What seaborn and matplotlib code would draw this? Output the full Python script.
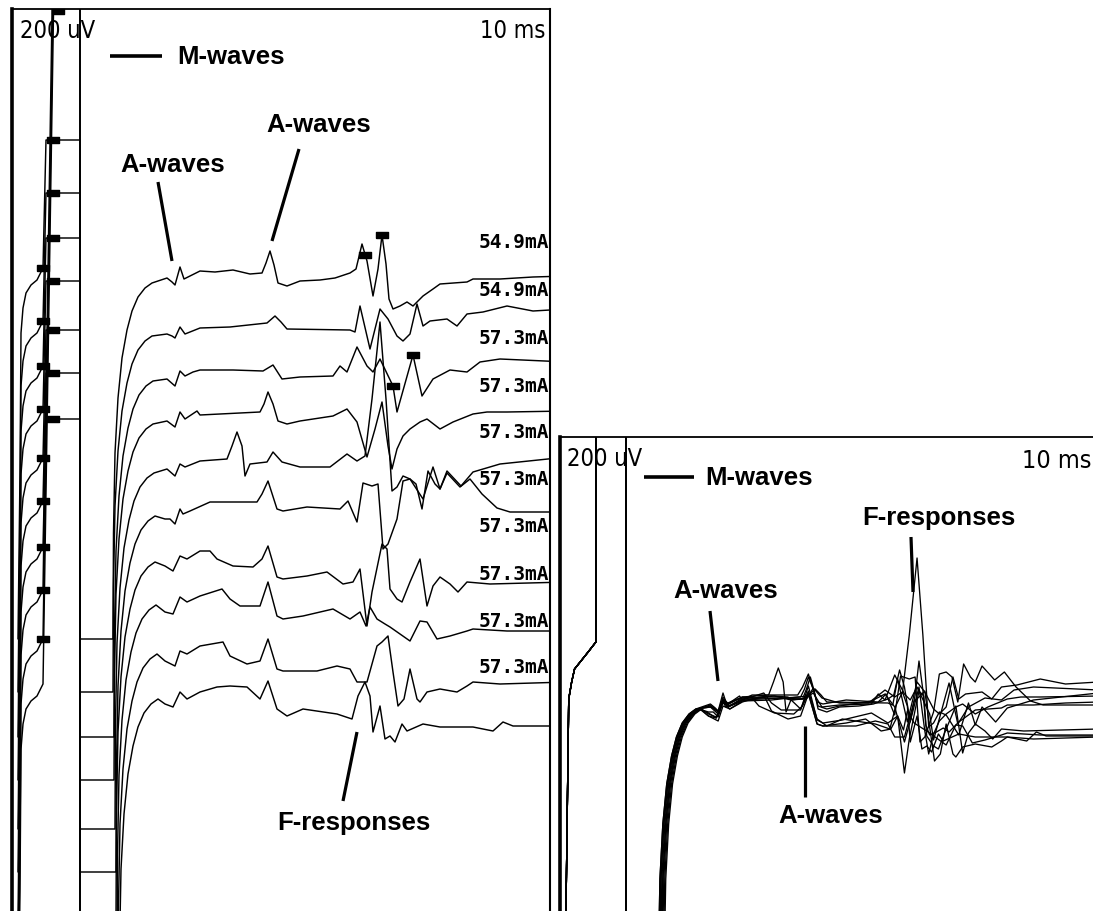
import numpy as np
import pandas as pd
import matplotlib
matplotlib.use("Agg")
import matplotlib.pyplot as plt
from matplotlib.lines import Line2D
import seaborn as sns

sns.set_theme(style="white")
plt.rcParams['font.family'] = ['Liberation Sans', 'DejaVu Sans']
plt.rcParams['text.color'] = 'black'

W, H = 1093, 912

# ---------------- data (time in ms, amplitude in uV) ----------------
INTENSITY_LABELS = ["54.9mA", "54.9mA", "57.3mA", "57.3mA", "57.3mA",
                    "57.3mA", "57.3mA", "57.3mA", "57.3mA", "57.3mA"]
TRACE_OFFSET_UV = [0, -265, -490, -705, -950, -1165, -1395, -1610, -1855, -2080]

# stimulus artefact / M-wave (stacked display, saturating)
PRE_T = [0.6, 0.8, 0.9, 1.1, 1.4, 1.9, 2.5, 3.1]
PRE_V = [-1830, -1000, -300, -175, -100, -60, -35, 25]
TOP_SAT_MS = [3.4, 3.4, 3.4, 3.4, 3.4, 3.4, 3.4, 4.5, 4.5, 4.5]
TOP_SAT_UV = [665, 665, 665, 665, 665, 665, 665, 4500, 4500, 4500]
DOWN_MS = 6.8
BOTTOM_SAT_UV = -1830

# M-wave in superimposed display
R_PRE_T = [0.5, 0.9, 1.2, 1.5, 2.9, 3.7, 3.8, 6.8, 6.8]
R_PRE_V = [-1500, 0, 85, 150, 235, 285, 4500, 4500, -1830]

# recovery of baseline after M-wave
REC_T = [10.1, 10.15, 10.3, 10.6, 11.0, 11.5, 12.0, 12.6, 13.3, 14.0]
REC_V = [-1830, -1300, -900, -625, -425, -285, -190, -120, -75, -50]
RECOV_SHIFT_MS = [0, 0, 0.1, 0.1, 0.2, 0.3, 0.3, 0.4, 0.5, 0.6]

# late part of each sweep (A-waves, F-responses)
T0 = [15.5, 16.0, 16.3, 16.8, 17.2, 17.8, 18.8, 20.3, 22.1, 23.8, 25.0, 25.4, 25.8, 26.2, 26.6, 27.5, 28.8, 30.8, 32.3, 33.8,
      34.4, 35.0, 35.5, 36.1, 36.6, 37.0, 37.4, 37.7, 38.1, 38.8, 39.5, 40.1, 41.1, 42.1, 42.8, 45.5, 46.1, 48.8, 52.1, 55.5]
V0 = [-25, -45, -60, 30, -30, -15, 10, 5, 15, -5, 0, 50, 110, 40, -50, -65, -40, -35, -25, 0,
      20, 145, 60, -115, 20, 190, 45, -130, -180, -165, -145, -165, -115, -80, -55, -45, -30, -30, -20, -15]

T1 = [15.5, 16.0, 16.3, 16.8, 17.3, 18.8, 21.8, 25.5, 26.3, 26.9, 27.5, 33.8, 34.3, 34.8, 35.8,
      36.8, 37.6, 38.5, 39.1, 39.8, 40.5, 41.1, 41.8, 43.5, 44.5, 45.5, 47.1, 49.5, 52.1, 55.5]
V1 = [-40, -50, -60, -5, -40, -10, -5, 15, 50, 20, -15, -20, -30, 100, -115,
      85, 35, -50, -75, -40, 110, 0, 25, 35, 0, 60, 70, 100, 75, 85]

T2 = [15.5, 16.3, 16.8, 17.3, 18.1, 18.8, 22.1, 25.1, 26.1, 27.0, 28.8, 32.1, 32.8, 33.5,
      34.5, 35.5, 36.1, 36.8, 38.1, 38.5, 40.1, 41.0, 42.1, 43.8, 45.5, 46.8, 48.8, 55.5]
V2 = [-40, -75, 0, -25, -5, 5, 5, 0, 30, -40, -30, -25, 25, -5,
      120, 25, -5, 60, -75, -205, 80, -125, -40, 5, -5, 45, 60, 45]

T3 = [15.5, 16.3, 16.8, 17.3, 18.5, 18.8, 24.8, 25.2, 25.6, 26.1, 26.6, 27.5, 28.8, 32.1, 33.5, 34.5,
      35.5, 36.3, 37.0, 37.6, 38.0, 38.5, 39.1, 39.8, 40.8, 41.5, 42.8, 44.1, 46.1, 47.5, 49.5, 55.5]
V3 = [-35, -65, 10, -25, 15, -5, 10, 50, 110, 50, -35, -50, -35, -10, 25, -40,
      -215, -75, 60, -160, -275, -175, -110, -75, -40, -25, -75, -40, 0, 10, 10, 15]

T4 = [15.5, 16.3, 16.8, 17.3, 18.8, 21.5, 22.0, 22.5, 23.0, 23.3, 23.8, 25.5, 26.1, 27.0, 28.8, 31.8, 33.5,
      34.5, 35.3, 36.0, 36.8, 37.4, 38.0, 38.5, 39.1, 39.8, 41.1, 42.1, 42.8, 43.5, 44.9, 46.1, 48.8, 55.5]
V4 = [-30, -65, -5, -20, 10, 20, 85, 155, 85, -65, -5, 5, 55, 5, -20, -20, 45,
      10, 35, 320, 705, 320, -140, -120, -65, -80, -180, -20, -130, -40, -115, -45, -5, 30]

T5 = [15.3, 15.8, 16.3, 16.8, 17.1, 17.8, 19.8, 24.5, 25.0, 25.6, 26.5, 27.1, 29.5, 32.8, 33.6, 34.5, 35.1, 36.0,
      36.6, 37.1, 37.6, 38.5, 39.1, 39.8, 40.4, 41.0, 41.6, 42.3, 42.8, 43.5, 44.8, 45.8, 47.0, 48.5, 49.8, 55.5]
V5 = [-65, -65, -90, -15, -40, -25, 20, 20, 60, 125, -15, -25, -5, -15, 25, -80, 115, 100,
      110, -215, -190, -65, 125, 135, 110, -15, 175, 110, 85, 165, 95, 135, 60, -10, -30, -30]

T6 = [15.3, 16.1, 16.8, 17.5, 18.8, 19.8, 20.5, 22.1, 24.1, 25.0, 25.6, 26.5, 27.1, 29.5, 31.5, 33.1, 34.1, 34.8,
      35.5, 36.0, 37.0, 37.5, 37.8, 38.5, 39.0, 39.8, 40.8, 41.5, 42.1, 42.8, 43.8, 44.6, 45.5, 47.8, 55.5]
V6 = [-70, -95, -20, -35, 5, 5, -35, -70, -75, -35, 30, -125, -135, -120, -100, -160, -150, -85,
      -370, -200, 40, 15, -185, -235, -250, -150, -35, -270, -170, -125, -160, -200, -150, -160, -150]

T7 = [15.3, 16.1, 16.8, 17.5, 18.8, 21.0, 21.8, 22.8, 24.8, 25.6, 26.5, 27.1, 29.1, 32.1, 33.8, 34.8,
      35.4, 35.8, 36.5, 37.3, 37.8, 38.8, 39.8, 40.8, 41.5, 42.5, 43.8, 45.5, 46.1, 49.5, 55.5]
V7 = [-85, -95, -10, -35, -5, 30, -20, -55, -55, 65, -105, -120, -105, -70, -120, -85,
      -155, -60, -120, -145, -160, -195, -230, -130, -135, -220, -205, -180, -170, -180, -180]

T8 = [15.3, 16.3, 16.8, 17.5, 18.8, 21.1, 21.8, 23.5, 24.8, 25.6, 26.5, 27.1, 30.5, 32.5, 33.8, 34.5, 35.5,
      36.5, 37.0, 37.6, 38.1, 38.6, 39.2, 39.8, 40.5, 40.8, 41.5, 42.8, 44.5, 45.5, 46.1, 48.8, 55.5]
V8 = [-85, -110, -35, -50, -10, 10, -60, -100, -85, 25, -125, -135, -135, -110, -125, -190, -190,
      -10, 10, 40, -140, -310, -275, -125, -275, -290, -240, -225, -240, -210, -190, -200, -190]

T9 = [15.3, 16.1, 16.8, 17.5, 18.8, 20.5, 21.8, 23.5, 24.8, 25.6, 26.5, 27.5, 29.1, 32.5, 34.0, 34.6,
      35.3, 35.8, 36.1, 36.8, 37.3, 37.8, 38.3, 39.0, 39.5, 41.1, 42.8, 46.1, 48.1, 49.1, 50.1, 55.5]
V9 = [-75, -90, -15, -50, -15, 10, 15, 10, -50, 40, -100, -135, -100, -125, -150, -35,
      35, -35, -215, -85, -250, -235, -265, -175, -210, -175, -190, -190, -210, -165, -185, -185]

TAILS_T = [T0, T1, T2, T3, T4, T5, T6, T7, T8, T9]
TAILS_V = [V0, V1, V2, V3, V4, V5, V6, V7, V8, V9]

# latency cursors (trace index, ms, uV)
MARK_TRACE = [0, 1, 2, 3, 4, 5, 6, 7, 8, 0, 1, 2, 3, 4, 5, 6, 0, 0, 2, 2, 9]
MARK_T = [3.1] * 9 + [4.1] * 7 + [35.3, 37.0, 38.1, 40.1, 4.6]
MARK_V = [25] * 9 + [665] * 7 + [90, 190, -75, 80, 3390]

# ---------------- build tables ----------------
rowsL, rowsR = [], []
for i in range(10):
    shift = RECOV_SHIFT_MS[i]
    rec_t = [r + shift for r in REC_T]
    tl = PRE_T + [TOP_SAT_MS[i], DOWN_MS, DOWN_MS] + rec_t + TAILS_T[i]
    vl = PRE_V + [TOP_SAT_UV[i], TOP_SAT_UV[i], BOTTOM_SAT_UV] + REC_V + TAILS_V[i]
    for k, (a, b) in enumerate(zip(tl, vl)):
        rowsL.append((i, k, a, b + TRACE_OFFSET_UV[i]))
    tr = R_PRE_T + rec_t + TAILS_T[i]
    vr = R_PRE_V + REC_V + TAILS_V[i]
    for k, (a, b) in enumerate(zip(tr, vr)):
        rowsR.append((i, k, a, b))
dfL = pd.DataFrame(rowsL, columns=["trace", "k", "ms", "uV"])
dfR = pd.DataFrame(rowsR, columns=["trace", "k", "ms", "uV"])
marks = pd.DataFrame({"trace": MARK_TRACE, "ms": MARK_T, "uV": MARK_V})
marks["uV"] = marks["uV"] + [TRACE_OFFSET_UV[t] for t in MARK_TRACE]

# ---------------- figure ----------------
fig = plt.figure(figsize=(W / 100, H / 100), dpi=100, facecolor="white")

def px_rect(x0, y0, w, h):
    return [x0 / W, 1 - (y0 + h) / H, w / W, h / H]

axL = fig.add_axes(px_rect(12, 10, 538, 902))
axR = fig.add_axes(px_rect(560, 438, 538, 474))

sns.lineplot(data=dfL, x="ms", y="uV", units="trace", estimator=None, sort=False,
             color="black", linewidth=1.05, ax=axL, legend=False)
sns.lineplot(data=dfR, x="ms", y="uV", units="trace", estimator=None, sort=False,
             color="black", linewidth=0.95, ax=axR, legend=False)

RECT = [(-1, -0.5), (1, -0.5), (1, 0.5), (-1, 0.5), (-1, -0.5)]
axL.plot(marks["ms"], marks["uV"], linestyle="none", marker=RECT, markersize=8,
         color="black")

axL.set_xlim(0, 53.8)
axL.set_ylim(-3190, 1320)
axR.set_xlim(0, 55.45)
axR.set_ylim(-1060, 1310)

for ax in (axL, axR):
    ax.set_xticks([])
    ax.set_yticks([])
    ax.set_xlabel("")
    ax.set_ylabel("")
    ax.set_facecolor("white")
    ax.spines["bottom"].set_visible(False)
    for s in ("left", "top", "right"):
        ax.spines[s].set_color("black")
    ax.spines["left"].set_linewidth(2.6)
    ax.spines["top"].set_linewidth(1.3)
    ax.spines["right"].set_linewidth(1.5)
axR.spines["right"].set_visible(False)

def fx(x):
    return x / W

def fy(y):
    return 1 - y / H

narrow = ["DejaVu Sans"]
fig.text(fx(20), fy(31), "200 uV", family=narrow, stretch="condensed", fontsize=17,
         ha="left", va="center", color="black")
fig.text(fx(545), fy(31), "10 ms", family=narrow, stretch="condensed", fontsize=17,
         ha="right", va="center", color="black")
fig.text(fx(567), fy(459), "200 uV", family=narrow, stretch="condensed", fontsize=17,
         ha="left", va="center", color="black")
fig.text(fx(1091), fy(461), "10 ms", family=narrow, stretch="condensed", fontsize=18,
         ha="right", va="center", color="black")

LABEL_Y = [242, 291, 338, 387, 433, 480, 527, 575, 622, 668]
for lab, yy in zip(INTENSITY_LABELS, LABEL_Y):
    fig.text(fx(549), fy(yy), lab, family="DejaVu Sans Mono", weight="bold",
             fontsize=14, ha="right", va="center", color="black")

def fig_line(x0, y0, x1, y1, lw=2.3):
    fig.add_artist(Line2D([fx(x0), fx(x1)], [fy(y0), fy(y1)], transform=fig.transFigure,
                          color="black", lw=lw, solid_capstyle="butt"))

def label(x, y, s):
    fig.text(fx(x), fy(y), s, fontsize=18.5, weight="bold", ha="left", va="center",
             color="black")

# left panel annotations
fig_line(110, 57, 162, 57, lw=2.6)
label(177, 57, "M-waves")
label(120, 165, "A-waves")
fig_line(158, 183, 172, 262)
label(266, 125, "A-waves")
fig_line(299, 150, 272, 242)
label(277, 823, "F-responses")
fig_line(357, 733, 343, 802)

# right panel annotations
fig_line(644, 478, 694, 478, lw=2.6)
label(705, 478, "M-waves")
label(862, 518, "F-responses")
fig_line(911, 538, 913, 593)
label(673, 591, "A-waves")
fig_line(710, 612, 718, 682)
label(778, 816, "A-waves")
fig_line(805, 727, 805, 798)

fig.savefig("out.png", dpi=100, facecolor="white")
